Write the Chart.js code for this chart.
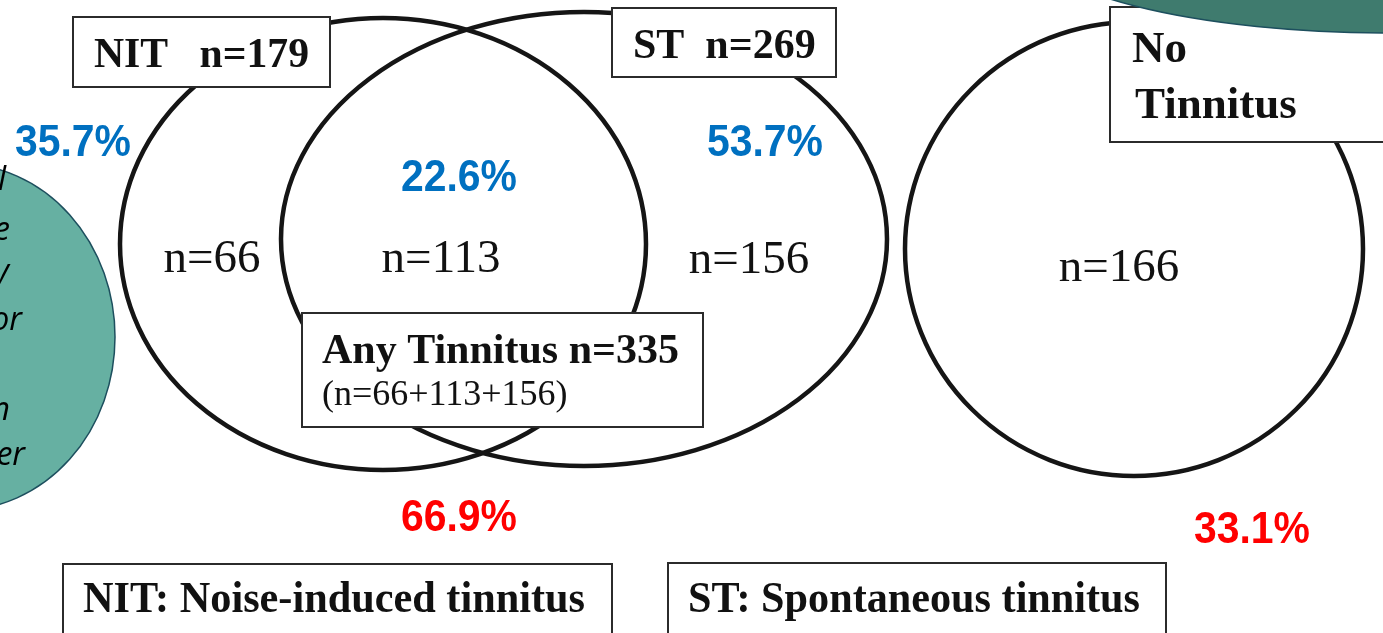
<!DOCTYPE html>
<html>
<head>
<meta charset="utf-8">
<script src="https://cdn.jsdelivr.net/npm/chart.js@4"></script>
<style>
  html, body { margin: 0; padding: 0; background: #fff; overflow: hidden; }
  #wrap { width: 1383px; height: 633px; position: relative; }
</style>
</head>
<body>
<div id="wrap"><canvas id="venn"></canvas></div>
<script>
// values
const regionNames = ["NIT only", "NIT and ST", "ST only", "No tinnitus"];
const regionCounts = [66, 113, 156, 166];
const setNames = ["NIT", "ST", "Any Tinnitus", "No", "Tinnitus"];
const footNotes = ["NIT: Noise-induced tinnitus", "ST: Spontaneous tinnitus"];
const sideText = ["l", "e", "y", "or", "n", "er"];

const total = regionCounts.reduce((a, b) => a + b, 0);
const nitTotal = regionCounts[0] + regionCounts[1];
const stTotal = regionCounts[1] + regionCounts[2];
const anyTotal = regionCounts[0] + regionCounts[1] + regionCounts[2];
const pct = n => (n / total * 100).toFixed(1) + "%";

const pctValues = [nitTotal, regionCounts[1], stTotal, anyTotal, regionCounts[3]];
const pctColors = ["#0070c0", "#0070c0", "#0070c0", "#ff0000", "#ff0000"];

// layout (axis units == pixels)
const ellipses = [
  { cx: 383, cy: 244, rx: 263, ry: 226 },
  { cx: 584, cy: 239, rx: 303, ry: 227 },
  { cx: 1134, cy: 249, rx: 229, ry: 227 }
];
const countPos = [[212, 272], [441, 272], [749, 273], [1119, 281]];
const pctPos = [[73, 156], [459, 191], [765, 156], [459, 531], [1252, 543]];
const sidePos = [[6, 190], [10, 240], [9, 282], [22, 330], [10, 420], [25, 465]];

const SERIF = '"Liberation Serif", "Times New Roman", serif';
const SANS = '"Liberation Sans", Arial, sans-serif';

const boxes = [
  { x0: 73, y0: 17, x1: 330, y1: 87, lines: [
    { t: `${setNames[0]}   n=${nitTotal}`, x: 94, y: 67, font: "bold 42px " + SERIF, w: 215 }] },
  { x0: 612, y0: 8, x1: 836, y1: 77, lines: [
    { t: `${setNames[1]}  n=${stTotal}`, x: 633, y: 58, font: "bold 42px " + SERIF, w: 183 }] },
  { x0: 1110, y0: 7, x1: 1400, y1: 142, lines: [
    { t: setNames[3], x: 1132, y: 62, font: "bold 45px " + SERIF },
    { t: setNames[4], x: 1135, y: 118, font: "bold 45px " + SERIF }] },
  { x0: 302, y0: 313, x1: 703, y1: 427, lines: [
    { t: `${setNames[2]} n=${anyTotal}`, x: 322, y: 363, font: "bold 42px " + SERIF, w: 358 },
    { t: `(n=${regionCounts.slice(0, 3).join("+")})`, x: 322, y: 405, font: "36px " + SERIF, w: 251 }] },
  { x0: 63, y0: 564, x1: 612, y1: 660, lines: [
    { t: footNotes[0], x: 83, y: 612, font: "bold 44px " + SERIF, w: 502 }] },
  { x0: 668, y0: 563, x1: 1166, y1: 660, lines: [
    { t: footNotes[1], x: 688, y: 612, font: "bold 44px " + SERIF, w: 452 }] }
];

function ellipsePath(ctx, sx, sy, e) {
  const px = sx.getPixelForValue(e.cx);
  const py = sy.getPixelForValue(e.cy);
  const rx = Math.abs(sx.getPixelForValue(e.cx + e.rx) - px);
  const ry = Math.abs(sy.getPixelForValue(e.cy + e.ry) - py);
  ctx.beginPath();
  ctx.ellipse(px, py, rx, ry, 0, 0, Math.PI * 2);
}

function drawBox(ctx, sx, sy, b) {
  const x0 = sx.getPixelForValue(b.x0), x1 = sx.getPixelForValue(b.x1);
  const y0 = sy.getPixelForValue(b.y0), y1 = sy.getPixelForValue(b.y1);
  ctx.fillStyle = "#fff";
  ctx.fillRect(x0, y0, x1 - x0, y1 - y0);
  ctx.strokeStyle = "#2b2b2b";
  ctx.lineWidth = 2;
  ctx.strokeRect(x0, y0, x1 - x0, y1 - y0);
  ctx.fillStyle = "#111";
  ctx.textAlign = "left";
  ctx.textBaseline = "alphabetic";
  b.lines.forEach(l => {
    ctx.font = l.font;
    if (l.w) ctx.fillText(l.t, sx.getPixelForValue(l.x), sy.getPixelForValue(l.y), l.w);
    else ctx.fillText(l.t, sx.getPixelForValue(l.x), sy.getPixelForValue(l.y));
  });
}

const vennPlugin = {
  id: "venn",
  afterDatasetsDraw(chart) {
    const ctx = chart.ctx;
    const sx = chart.scales.x, sy = chart.scales.y;
    ctx.save();

    // teal shape on the left with clipped slide text
    ellipsePath(ctx, sx, sy, { cx: -40, cy: 337, rx: 155, ry: 173 });
    ctx.fillStyle = "#66b0a2";
    ctx.fill();
    ctx.strokeStyle = "#1d4f5e";
    ctx.lineWidth = 1.5;
    ctx.stroke();

    ctx.fillStyle = "#000";
    ctx.font = 'italic 32px "Open Sans", sans-serif';
    ctx.textAlign = "right";
    ctx.textBaseline = "alphabetic";
    sideText.forEach((t, i) => {
      ctx.fillText(t, sx.getPixelForValue(sidePos[i][0]), sy.getPixelForValue(sidePos[i][1]));
    });

    // set outlines
    ctx.strokeStyle = "#151515";
    ctx.lineWidth = 4.5;
    ellipses.forEach(e => {
      ellipsePath(ctx, sx, sy, e);
      ctx.stroke();
    });

    boxes.forEach(b => drawBox(ctx, sx, sy, b));

    // teal shape top right
    ellipsePath(ctx, sx, sy, { cx: 1390, cy: -60, rx: 362, ry: 93 });
    ctx.fillStyle = "#3f7b6e";
    ctx.fill();
    ctx.strokeStyle = "#1d4f5e";
    ctx.lineWidth = 1.5;
    ctx.stroke();

    // region counts
    ctx.textAlign = "center";
    ctx.fillStyle = "#111";
    ctx.font = "47px " + SERIF;
    chart.getDatasetMeta(0).data.forEach((pt, i) => {
      ctx.fillText("n=" + regionCounts[i], pt.x, pt.y);
    });

    // percentages (slightly condensed, as on the slide)
    ctx.font = "bold 44px " + SANS;
    chart.getDatasetMeta(1).data.forEach((pt, i) => {
      ctx.fillStyle = pctColors[i];
      ctx.fillText(pct(pctValues[i]), pt.x, pt.y, 116);
    });

    ctx.restore();
  }
};

new Chart(document.getElementById("venn"), {
  type: "scatter",
  data: {
    datasets: [
      { label: "Counts", data: countPos.map(p => ({ x: p[0], y: p[1] })), pointRadius: 0 },
      { label: "Percent", data: pctPos.map(p => ({ x: p[0], y: p[1] })), pointRadius: 0 }
    ]
  },
  options: {
    responsive: true,
    maintainAspectRatio: false,
    animation: false,
    layout: { padding: 0 },
    plugins: { legend: { display: false }, tooltip: { enabled: false } },
    scales: {
      x: { type: "linear", min: 0, max: 1383, display: false },
      y: { type: "linear", min: 0, max: 633, reverse: true, display: false }
    }
  },
  plugins: [vennPlugin]
});
</script>
</body>
</html>
